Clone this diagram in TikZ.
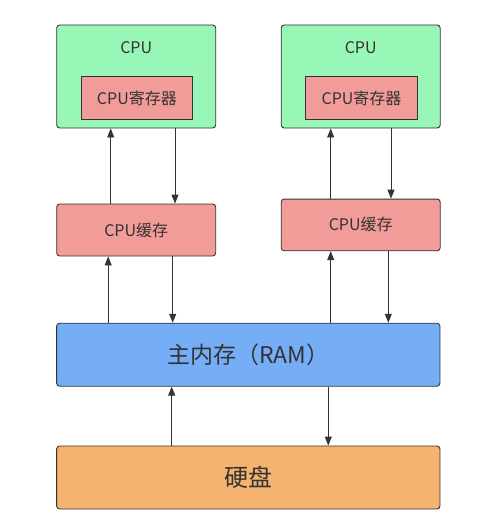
\documentclass[tikz,border=0pt]{standalone}
\usepackage{fontspec}
\setmainfont{Noto Sans CJK SC}
\usetikzlibrary{arrows.meta}
\definecolor{cpugreen}{HTML}{98F7B7}
\definecolor{regred}{HTML}{F19C99}
\definecolor{ramblue}{HTML}{75AEF7}
\definecolor{diskorange}{HTML}{F4B36F}
\definecolor{edgegray}{HTML}{333333}
\begin{document}
\begin{tikzpicture}[x=1pt,y=-1pt,
  box/.style={draw=edgegray,line width=0.9pt,rounded corners=3pt,inner sep=0pt,text=edgegray,font=\fontsize{16}{18}\selectfont},
  cpubox/.style={box,fill=cpugreen,minimum width=159pt,minimum height=103pt},
  regbox/.style={box,rounded corners=0pt,fill=regred,minimum width=111.5pt,minimum height=42.3pt},
  cachebox/.style={box,fill=regred,minimum width=159pt,minimum height=52pt},
  bigbox/.style={box,minimum width=383.3pt,minimum height=63pt,font=\fontsize{23}{26}\selectfont},
  arr/.style={draw=edgegray,line width=0.9pt,-{Triangle[length=9pt,width=7pt]}}
]
\useasboundingbox (0,0) rectangle (499,516);
% left column
\node[cpubox] (cpu1) at (136.2,76.5) {};
\node[text=edgegray,font=\fontsize{16}{18}\selectfont] (cpulab1) at (136.2,48) {CPU};
\node[regbox] (reg1) at (136.9,97.9) {CPU寄存器};
\node[cachebox] (cache1) at (136.2,230) {CPU缓存};
% right column
\node[cpubox] (cpu2) at (360.7,76.5) {};
\node[text=edgegray,font=\fontsize{16}{18}\selectfont] (cpulab2) at (360.7,48) {CPU};
\node[regbox] (reg2) at (361.5,97.9) {CPU寄存器};
\node[cachebox,minimum height=51.7pt] (cache2) at (360.7,224.9) {CPU缓存};
% memory and disk
\node[bigbox,fill=ramblue] (ram) at (248.3,354.7) {主内存（RAM）};
\node[bigbox,fill=diskorange,font=\fontsize{24}{26}\selectfont] (disk) at (248.3,477.5) {硬盘};
% arrows
\draw[arr] ([xshift=-25.5pt]cache1.north) -- ([xshift=-25.5pt]cpu1.south);
\draw[arr] ([xshift=38.8pt]cpu1.south) -- ([xshift=38.8pt]cache1.north);
\draw[arr] ([xshift=-30pt]cache2.north) -- ([xshift=-30pt]cpu2.south);
\draw[arr] ([xshift=30.3pt]cpu2.south) -- ([xshift=30.3pt]cache2.north);
\draw[arr] ([xshift=-28pt]cache1.south |- ram.north) -- ([xshift=-28pt]cache1.south);
\draw[arr] ([xshift=36.5pt]cache1.south) -- ([xshift=36.5pt]cache1.south |- ram.north);
\draw[arr] ([xshift=-30pt]cache2.south |- ram.north) -- ([xshift=-30pt]cache2.south);
\draw[arr] ([xshift=27.6pt]cache2.south) -- ([xshift=27.6pt]cache2.south |- ram.north);
\draw[arr] ([xshift=-76.6pt]disk.north) -- ([xshift=-76.6pt]ram.south);
\draw[arr] ([xshift=80pt]ram.south) -- ([xshift=80pt]disk.north);
\end{tikzpicture}
\end{document}
